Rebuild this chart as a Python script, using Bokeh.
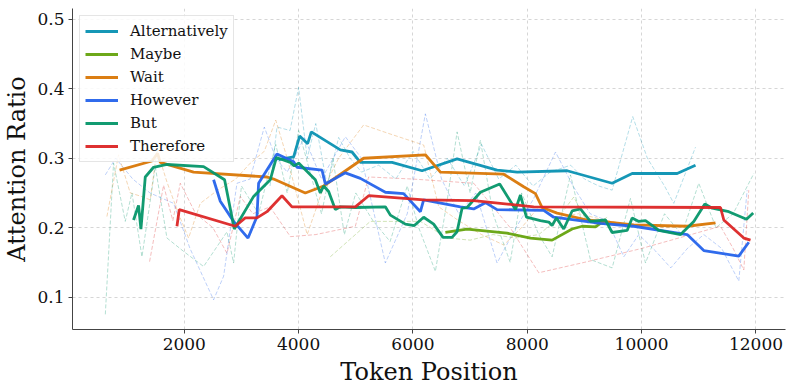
from bokeh.plotting import figure
from bokeh.models import Legend, LegendItem, FixedTicker, Range1d
from bokeh.embed import file_html
from bokeh.resources import INLINE

# ---------------- data ----------------
categories = ["Alternatively", "Maybe", "Wait", "However", "But", "Therefore"]
colors = ["#0891b2", "#65a30d", "#d97706", "#2563eb", "#059669", "#dc2626"]

# smoothed (solid) series
alt_x = [3650, 3913, 4018, 4158, 4222, 4730, 4934, 5080, 5634, 6159, 6772, 7471, 7821, 8697, 9484, 9834, 10621, 10942]
alt_y = [0.298, 0.302, 0.332, 0.321, 0.338, 0.312, 0.309, 0.294, 0.294, 0.282, 0.299, 0.283, 0.280, 0.282, 0.264, 0.278, 0.278, 0.290]

maybe_x = [6567, 6946, 7646, 8054, 8434, 8784, 8959, 9192, 9279, 9350]
maybe_y = [0.193, 0.198, 0.192, 0.185, 0.182, 0.198, 0.202, 0.201, 0.206, 0.207]

wait_x = [868, 1435, 1533, 1580, 2163, 3447, 3563, 4117, 4437, 5137, 6217, 6480, 7587, 7937, 8142, 8259, 8521, 9046, 9862, 10796, 11291]
wait_y = [0.283, 0.296, 0.307, 0.294, 0.280, 0.273, 0.270, 0.250, 0.260, 0.300, 0.305, 0.280, 0.277, 0.259, 0.249, 0.229, 0.221, 0.211, 0.204, 0.202, 0.207]

how_x = [2513, 2630, 2863, 3115, 3272, 3300, 3622, 3913, 3972, 4409, 4467, 4817, 5080, 5517, 5837, 6130, 6187, 6829, 7062, 7267, 7471, 8287, 8462, 9279, 9862, 10796, 11087, 11699, 11874]
how_y = [0.269, 0.238, 0.209, 0.185, 0.216, 0.264, 0.306, 0.295, 0.287, 0.283, 0.263, 0.279, 0.271, 0.251, 0.249, 0.223, 0.240, 0.230, 0.227, 0.236, 0.226, 0.225, 0.215, 0.206, 0.202, 0.190, 0.167, 0.159, 0.179]

but_x = [1112, 1200, 1242, 1318, 1463, 1697, 2338, 2705, 2875, 3213, 3505, 3610, 3855, 3925, 4000, 4292, 4380, 4438, 4525, 4642, 4730, 4992, 5517, 5605, 5867, 6024, 6187, 6362, 6526, 6684, 6771, 6859, 6946, 7179, 7517, 7793, 7880, 7985, 8229, 8375, 8434, 8509, 8637, 8784, 8929, 9104, 9367, 9484, 9746, 9834, 9950, 10067, 10300, 10681, 10912, 11105, 11234, 11524, 11834, 11951]
but_y = [0.211, 0.232, 0.198, 0.273, 0.287, 0.291, 0.288, 0.269, 0.198, 0.245, 0.269, 0.301, 0.294, 0.289, 0.293, 0.269, 0.250, 0.260, 0.252, 0.226, 0.230, 0.229, 0.230, 0.218, 0.205, 0.203, 0.215, 0.205, 0.186, 0.186, 0.194, 0.228, 0.229, 0.251, 0.263, 0.226, 0.247, 0.215, 0.210, 0.208, 0.203, 0.214, 0.198, 0.224, 0.227, 0.209, 0.211, 0.193, 0.196, 0.214, 0.209, 0.210, 0.196, 0.190, 0.209, 0.234, 0.228, 0.223, 0.212, 0.221]

ther_x = [1872, 1912, 2892, 3067, 3272, 3447, 3709, 3884, 4992, 5225, 6188, 7062, 8112, 11379, 11437, 11787, 11904]
ther_y = [0.202, 0.226, 0.202, 0.214, 0.214, 0.223, 0.246, 0.230, 0.230, 0.246, 0.240, 0.239, 0.230, 0.229, 0.211, 0.185, 0.182]

# raw (faint dashed) series
alt_raw_x = [3500, 3622, 3850, 4000, 4150, 4300, 4500, 4700, 4900, 5100, 5400, 5700, 6000, 6300, 6600, 6900, 7200, 7500, 7800, 8100, 8400, 8757, 9000, 9250, 9484, 9844, 10100, 10400, 10562, 10942]
alt_raw_y = [0.26, 0.345, 0.34, 0.402, 0.30, 0.35, 0.26, 0.33, 0.30, 0.28, 0.29, 0.27, 0.31, 0.27, 0.30, 0.26, 0.32, 0.27, 0.29, 0.26, 0.28, 0.290, 0.27, 0.26, 0.254, 0.360, 0.30, 0.26, 0.235, 0.316]

maybe_raw_x = [4554, 5254, 6130, 6600, 7000, 7400, 7800, 8200, 8500, 8812, 9100, 9400]
maybe_raw_y = [0.158, 0.209, 0.209, 0.185, 0.182, 0.190, 0.185, 0.190, 0.210, 0.244, 0.200, 0.215]

wait_raw_x = [647, 850, 1055, 1250, 1405, 1522, 1700, 1900, 2075, 2280, 2600, 2900, 3155, 3400, 3600, 3800, 4150, 4400, 4700, 5137, 5600, 6188, 6450, 6800, 7200, 7587, 7900, 8200, 8500, 8900, 9300, 9700, 10100, 10500, 10900, 11300]
wait_raw_y = [0.216, 0.305, 0.250, 0.245, 0.240, 0.312, 0.265, 0.220, 0.185, 0.235, 0.255, 0.270, 0.293, 0.310, 0.355, 0.300, 0.190, 0.250, 0.300, 0.348, 0.335, 0.319, 0.230, 0.210, 0.190, 0.175, 0.200, 0.230, 0.215, 0.220, 0.212, 0.205, 0.200, 0.200, 0.203, 0.206]

how_raw_x = [619, 800, 1100, 1400, 1813, 2100, 2513, 2688, 2922, 3150, 3400, 3600, 3800, 4100, 4400, 4817, 5100, 5517, 5900, 6217, 6500, 6800, 7100, 7471, 7800, 8100, 8493, 8800, 9100, 9400, 9688, 9950, 10247, 10510, 10800, 11087, 11400, 11699, 11845]
how_raw_y = [0.276, 0.300, 0.270, 0.250, 0.235, 0.170, 0.096, 0.130, 0.264, 0.270, 0.345, 0.300, 0.280, 0.330, 0.270, 0.331, 0.300, 0.149, 0.220, 0.364, 0.270, 0.220, 0.250, 0.149, 0.200, 0.240, 0.309, 0.260, 0.220, 0.210, 0.158, 0.190, 0.166, 0.142, 0.170, 0.190, 0.170, 0.123, 0.254]

but_raw_x = [619, 763, 968, 1085, 1260, 1493, 1697, 2000, 2338, 2747, 2863, 3000, 3300, 3600, 3800, 4000, 4200, 4400, 4600, 4800, 5000, 5300, 5600, 5900, 6100, 6392, 6600, 6772, 7000, 7179, 7400, 7700, 7900, 8200, 8434, 8756, 9104, 9484, 9804, 10067, 10400, 10700, 10999, 11300, 11600, 11962]
but_raw_y = [0.075, 0.293, 0.209, 0.250, 0.158, 0.288, 0.185, 0.165, 0.144, 0.194, 0.149, 0.260, 0.220, 0.320, 0.250, 0.340, 0.280, 0.220, 0.300, 0.190, 0.250, 0.210, 0.180, 0.260, 0.200, 0.137, 0.240, 0.338, 0.250, 0.326, 0.220, 0.150, 0.250, 0.190, 0.158, 0.276, 0.154, 0.142, 0.242, 0.149, 0.220, 0.190, 0.264, 0.200, 0.220, 0.278]

ther_raw_x = [1393, 1638, 1800, 1930, 2200, 2500, 2747, 2980, 3200, 3500, 3856, 4300, 4992, 5225, 6000, 7062, 7700, 8200, 9000, 10000, 11379, 11600, 11787, 11874]
ther_raw_y = [0.151, 0.261, 0.210, 0.264, 0.220, 0.200, 0.163, 0.245, 0.220, 0.230, 0.187, 0.190, 0.202, 0.273, 0.270, 0.264, 0.200, 0.135, 0.150, 0.170, 0.202, 0.170, 0.139, 0.254]

x_ticks = [2000, 4000, 6000, 8000, 10000, 12000]
y_ticks = [0.1, 0.2, 0.3, 0.4, 0.5]

smooth = [(alt_x, alt_y), (maybe_x, maybe_y), (wait_x, wait_y), (how_x, how_y), (but_x, but_y), (ther_x, ther_y)]
raw = [(alt_raw_x, alt_raw_y), (maybe_raw_x, maybe_raw_y), (wait_raw_x, wait_raw_y), (how_raw_x, how_raw_y), (but_raw_x, but_raw_y), (ther_raw_x, ther_raw_y)]

# ---------------- figure ----------------
FONT = "DejaVu Serif"
p = figure(width=788, height=388, output_backend="svg", toolbar_location=None,
           x_range=Range1d(45, 12516), y_range=Range1d(0.0532, 0.5158),
           min_border_left=72, min_border_right=3, min_border_top=8, min_border_bottom=58)
p.outline_line_color = None
p.background_fill_color = "white"

for (rx, ry), c in zip(raw, colors):
    p.line(rx, ry, line_color=c, line_width=1, line_alpha=0.3, line_dash="4 2")

items = []
for (sx, sy), c, name in zip(smooth, colors, categories):
    r = p.line(sx, sy, line_color=c, line_width=2.8, line_alpha=0.95)
    items.append(LegendItem(label=name, renderers=[r]))

legend = Legend(items=items, location="top_left")
legend.label_text_font = FONT
legend.label_text_font_size = "15px"
legend.label_text_color = "#111111"
legend.glyph_width = 33
legend.glyph_height = 20
legend.label_height = 20
legend.label_standoff = 12
legend.spacing = 3
legend.padding = 5
legend.margin = 7
legend.border_line_color = "#cccccc"
legend.border_line_width = 1
legend.background_fill_alpha = 0.85
p.add_layout(legend)

for ax in (p.xaxis[0], p.yaxis[0]):
    ax.axis_line_color = "#444444"
    ax.major_tick_line_color = "#444444"
    ax.major_tick_out = 4
    ax.major_tick_in = 0
    ax.minor_tick_out = 0
    ax.minor_tick_in = 0
    ax.major_label_text_font = FONT
    ax.major_label_text_font_size = "17px"
    ax.major_label_text_color = "#111111"
    ax.axis_label_text_font = FONT
    ax.axis_label_text_font_size = "24px"
    ax.axis_label_text_font_style = "normal"
    ax.axis_label_text_color = "#111111"
    ax.major_label_standoff = 4

p.xaxis.axis_label = "Token Position"
p.yaxis.axis_label = "Attention Ratio"
p.xaxis.ticker = FixedTicker(ticks=x_ticks)
p.yaxis.ticker = FixedTicker(ticks=y_ticks)
p.xaxis.axis_label_standoff = 5
p.yaxis.axis_label_standoff = 3

for g in (p.xgrid[0], p.ygrid[0]):
    g.grid_line_color = "#cccccc"
    g.grid_line_dash = "3 3"
    g.grid_line_alpha = 0.8
p.xgrid.ticker = FixedTicker(ticks=x_ticks)
p.ygrid.ticker = FixedTicker(ticks=y_ticks)

open("out.html", "w").write(file_html(p, INLINE))
